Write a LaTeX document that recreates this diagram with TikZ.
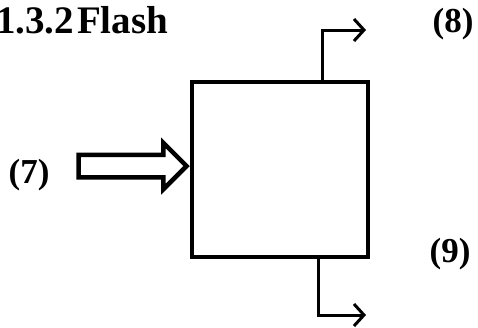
\documentclass[tikz,border=0pt]{standalone}
\usepackage{fontspec}
\setmainfont{Liberation Serif}
\usetikzlibrary{arrows.meta,positioning,shapes.arrows}

\begin{document}
\begin{tikzpicture}[x=1pt, y=-1pt,
            flashbox/.style={draw, line width=4.5pt, minimum width=176pt, minimum height=175pt, inner sep=0pt},
            feedarrow/.style={draw, line width=4.5pt, single arrow, single arrow head extend=12pt, inner sep=9pt, minimum height=108pt},
            outlet/.style={line width=3pt, -{Straight Barb[length=10pt, width=22pt]}},
            streamlbl/.style={font=\bfseries\fontsize{35}{38}\selectfont, anchor=base, inner sep=0pt}
        ]
            \useasboundingbox (0,0) rectangle (478,327);
            \node[font=\bfseries\fontsize{39}{42}\selectfont, anchor=base west, inner sep=0pt] (title) at (-4,33) {1.3.2\hspace{3pt}Flash};
            \node[flashbox] (flash) at (280,169.5) {};
            \node[feedarrow, anchor=tip] (feed) at ([yshift=3.5pt]flash.west) {};
            \coordinate (vapend) at (366,30);
            \coordinate (liqend) at (366,315);
            \draw[outlet] ([xshift=42pt]flash.north) |- (vapend);
            \draw[outlet] ([xshift=38pt]flash.south) |- (liqend);
            \node[streamlbl] (s7) at (29,183) {(7)};
            \node[streamlbl] (s8) at (453,32) {(8)};
            \node[streamlbl] (s9) at (450,262) {(9)};
        \end{tikzpicture}
\end{document}
